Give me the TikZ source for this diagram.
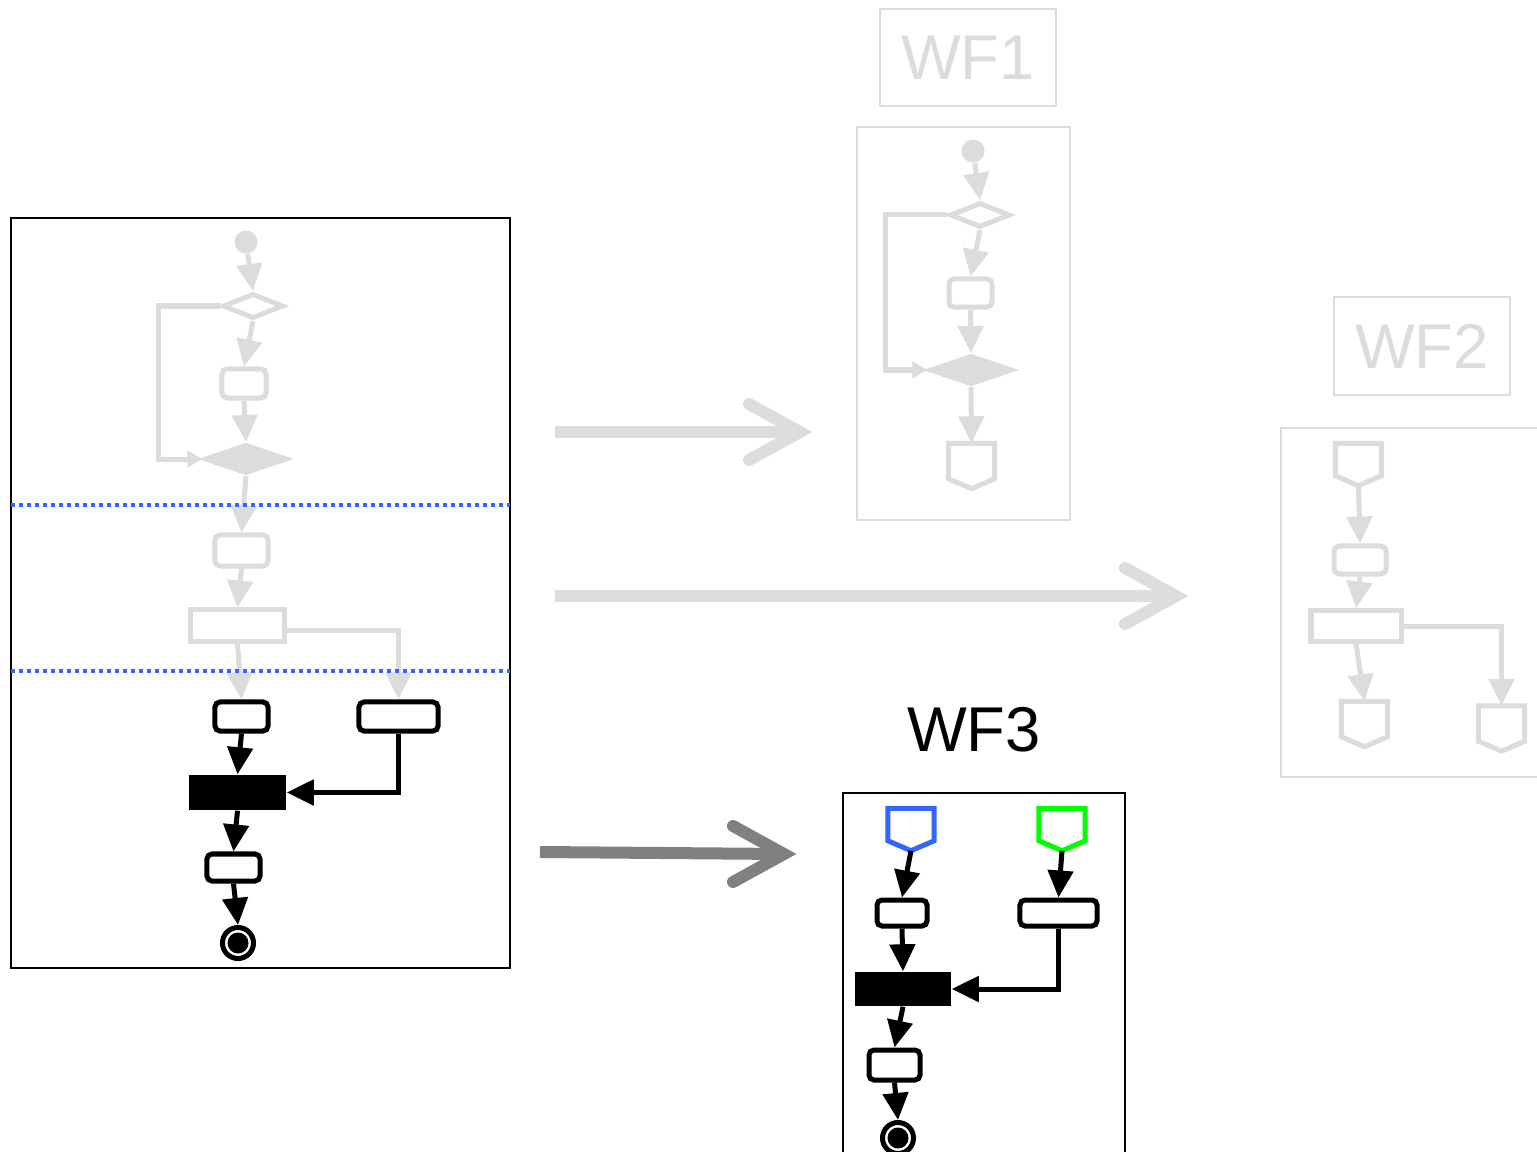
\documentclass[tikz,border=0pt]{standalone}
\usepackage{fontspec}
\setmainfont{Liberation Sans}
\usetikzlibrary{arrows.meta,shapes.geometric,calc}
\definecolor{lgray}{HTML}{DCDCDC}
\definecolor{agray}{HTML}{DDDDDD}
\definecolor{dgray}{HTML}{808080}
\definecolor{pinblue}{HTML}{3366FF}
\definecolor{pingreen}{HTML}{00FF00}

% pentagon-shaped pin drawn around a named pin node
\newcommand\pinpath[2]{%
  \draw[#2, line width=0.05cm, line join=miter]
    (#1.north west) -- (#1.north east) -- ($(#1.south east)+(0,-10)$)
    -- (#1.south) -- ($(#1.south west)+(0,-10)$) -- cycle;}
% open chevron arrow: shaft start, joint, arm ends
\newcommand\chevron[5]{%
  \draw[bigarrow, #1] (#2) -- (#3);
  \draw[bigarrow, #1, line cap=round, line join=miter] (#4) -- (#3) -- (#5);}

\begin{document}
\begin{tikzpicture}[x=0.01cm, y=-0.01cm,
  flow/.style={line width=0.05cm, -{Triangle[length=0.27cm,width=0.25cm]}},
  gflow/.style={flow, draw=lgray},
  bflow/.style={flow, draw=black},
  smallhead/.style={-{Triangle[length=0.15cm,width=0.16cm]}},
  act/.style={rectangle, rounded corners=0.05cm, line width=0.05cm, inner sep=0pt, fill=white},
  gact/.style={act, draw=lgray},
  bact/.style={act, draw=black},
  gfork/.style={rectangle, draw=lgray, line width=0.05cm, inner sep=0pt, fill=white},
  bfork/.style={rectangle, fill=black, inner sep=0pt},
  dec/.style={diamond, draw=lgray, line width=0.05cm, inner sep=0pt, fill=white},
  mrg/.style={diamond, draw=lgray, fill=lgray, line width=0.05cm, inner sep=0pt},
  init/.style={circle, fill=lgray, inner sep=0pt, minimum size=0.23cm},
  final/.style={circle, draw=black, fill=white, line width=0.05cm, inner sep=0pt, minimum size=0.31cm},
  pinbox/.style={rectangle, inner sep=0pt, minimum width=0.45cm, minimum height=0.44cm},
  frame/.style={line width=0.02cm},
  title/.style={draw=lgray, line width=0.02cm, text=lgray, inner sep=0pt,
    font=\fontsize{18}{20}\selectfont, minimum width=1.76cm, minimum height=0.97cm},
  bigarrow/.style={line width=0.12cm},
  swim/.style={draw=pinblue, line width=0.04cm, dash pattern=on 0.04cm off 0.04cm}]

\useasboundingbox (0,0) rectangle (1537,1152);
\clip (0,0) rectangle (1537,1152);

% ---------- source workflow ----------
\draw[frame] (11,218) rectangle (510,968);
\node[init] (a0) at (246,242) {};
\node[dec, minimum width=0.61cm, minimum height=0.25cm] (a1) at (253,306) {};
\node[gact, minimum width=0.44cm, minimum height=0.29cm] (a2) at (244,383.5) {};
\node[mrg, minimum width=0.82cm, minimum height=0.29cm] (a3) at (246,459) {};
\node[gact, minimum width=0.53cm, minimum height=0.31cm] (a4) at (241.5,550.5) {};
\node[gfork, minimum width=0.93cm, minimum height=0.31cm] (a5) at (237.5,625.5) {};
\node[bact, minimum width=0.53cm, minimum height=0.29cm] (a6) at (241.5,716.5) {};
\node[bact, minimum width=0.79cm, minimum height=0.29cm] (a7) at (398.5,716.5) {};
\node[bfork, minimum width=0.97cm, minimum height=0.35cm] (a8) at (237.5,792.5) {};
\node[bact, minimum width=0.53cm, minimum height=0.27cm] (a9) at (233.5,867.5) {};
\node[final] (a10) at (238,943) {};
\fill (a10.center) circle (0.105cm);
\coordinate (lp1) at (158,380);

\draw[gflow] (a0) -- (a1.north);
\draw[gflow] (a1.south) -- (a2.north);
\draw[gflow] (a2.south) -- (a3.north);
\draw[gflow, smallhead] (a1.west) -| (lp1) |- (a3.west);
\draw[gflow] (a3.south) -- (a4.north);
\draw[gflow] (a4.south) -- (a5.north);
\draw[gflow] (a5.south) -- (a6.north);
\draw[gflow] ([yshift=-0.05cm]a5.east) -| (a7.north);
\draw[bflow] (a6.south) -- (a8.north);
\draw[bflow] (a7.south) |- (a8.east);
\draw[bflow] (a8.south) -- (a9.north);
\draw[bflow] (a9.south) -- (a10.north);

% partition lines
\coordinate (sw1) at (11,505); \coordinate (se1) at (510,505);
\coordinate (sw2) at (11,671); \coordinate (se2) at (510,671);
\draw[swim] (sw1) -- (se1);
\draw[swim] (sw2) -- (se2);

% ---------- WF1 ----------
\node[title] (t1) at (968,57.5) {WF1};
\draw[frame, draw=lgray] (857,127) rectangle (1070,520);
\node[init] (b0) at (973,151) {};
\node[dec, minimum width=0.60cm, minimum height=0.25cm] (b1) at (980,215) {};
\node[gact, minimum width=0.43cm, minimum height=0.28cm] (b2) at (970.5,293) {};
\node[mrg, minimum width=0.82cm, minimum height=0.29cm] (b3) at (971,370) {};
\node[pinbox] (b4) at (971.5,466) {};
\pinpath{b4}{draw=lgray}
\coordinate (lp2) at (885,300);
\draw[gflow] (b0) -- (b1.north);
\draw[gflow] (b1.south) -- (b2.north);
\draw[gflow] (b2.south) -- (b3.north);
\draw[gflow, smallhead] (b1.west) -| (lp2) |- (b3.west);
\draw[gflow] (b3.south) -- (b4.north);

% ---------- WF2 ----------
\node[title] (t2) at (1422,346) {WF2};
\draw[frame, draw=lgray] (1281,428) rectangle (1545,777);
\node[pinbox, minimum height=0.41cm] (c0) at (1358.5,464.5) {};
\pinpath{c0}{draw=lgray}
\node[gact, minimum width=0.52cm, minimum height=0.28cm] (c1) at (1360,560) {};
\node[gfork, minimum width=0.90cm, minimum height=0.30cm] (c2) at (1356,626) {};
\node[pinbox] (c3) at (1364.5,724) {};
\pinpath{c3}{draw=lgray}
\node[pinbox] (c4) at (1501.5,728.5) {};
\pinpath{c4}{draw=lgray}
\draw[gflow] (c0.south) -- (c1.north);
\draw[gflow] (c1.south) -- (c2.north);
\draw[gflow] (c2.south) -- (c3.north);
\draw[gflow] (c2.east) -| (c4.north);

% ---------- WF3 ----------
\node[font=\fontsize{18}{20}\selectfont] (t3) at (974,730) {WF3};
\draw[frame] (843,793) rectangle (1125,1170);
\node[pinbox, minimum height=0.41cm] (d0) at (911,829.5) {};
\pinpath{d0}{draw=pinblue}
\node[pinbox, minimum height=0.41cm] (d1) at (1062,829.5) {};
\pinpath{d1}{draw=pingreen}
\node[bact, minimum width=0.50cm, minimum height=0.26cm] (d2) at (902,913) {};
\node[bact, minimum width=0.77cm, minimum height=0.26cm] (d3) at (1058.5,913) {};
\node[bfork, minimum width=0.96cm, minimum height=0.34cm] (d4) at (903,989) {};
\node[bact, minimum width=0.51cm, minimum height=0.30cm] (d5) at (894.5,1065) {};
\node[final] (d6) at (898,1138) {};
\fill (d6.center) circle (0.105cm);
\draw[bflow] (d0.south) -- (d2.north);
\draw[bflow] (d1.south) -- (d3.north);
\draw[bflow] (d2.south) -- (d4.north);
\draw[bflow] (d3.south) |- (d4.east);
\draw[bflow] (d4.south) -- (d5.north);
\draw[bflow] (d5.south) -- (d6.north);

% ---------- transformation arrows ----------
\coordinate (s1) at (555,432);  \coordinate (h1) at (800,432);
\coordinate (u1) at (749,404);  \coordinate (l1) at (749,460);
\chevron{agray}{s1}{h1}{u1}{l1}
\coordinate (s2) at (555,596);  \coordinate (h2) at (1176,596);
\coordinate (u2) at (1125,568); \coordinate (l2) at (1125,624);
\chevron{agray}{s2}{h2}{u2}{l2}
\coordinate (s3) at (540,852);  \coordinate (h3) at (784,854);
\coordinate (u3) at (733,826);  \coordinate (l3) at (733,882);
\chevron{dgray}{s3}{h3}{u3}{l3}
\end{tikzpicture}
\end{document}
